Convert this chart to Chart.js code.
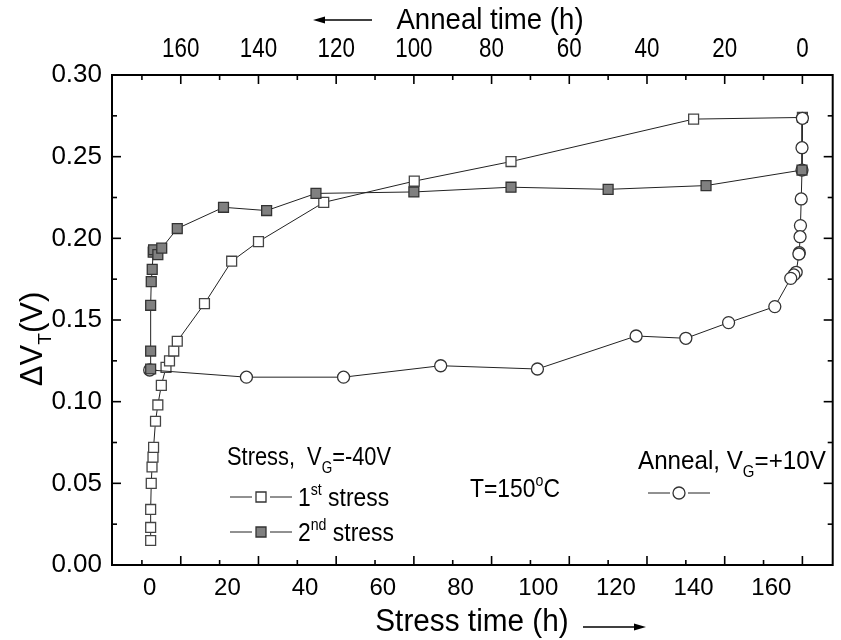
<!DOCTYPE html>
<html>
<head>
<meta charset="utf-8">
<script src="https://cdn.jsdelivr.net/npm/chart.js@4.4.1/dist/chart.umd.min.js"></script>
<style>
  html, body { margin: 0; padding: 0; background: #fff; }
  #wrap { width: 841px; height: 640px; position: relative; }
</style>
</head>
<body>
<div id="wrap"><canvas id="chart"></canvas></div>
<script>
// values (hours, volts)
const stress1Time = [0.25, 0.25, 0.25, 0.4, 0.6, 0.85, 1.0, 1.5, 2.1, 3.0, 4.2, 5.1, 6.2, 7.1, 14.1, 21.1, 28.0, 44.8, 68.1, 93.0, 140.0, 168.0];
const stress1Vt   = [0.015, 0.023, 0.034, 0.050, 0.060, 0.066, 0.072, 0.088, 0.098, 0.110, 0.121, 0.125, 0.131, 0.137, 0.160, 0.186, 0.198, 0.222, 0.235, 0.247, 0.273, 0.274];

const stress2Time = [0.25, 0.25, 0.25, 0.4, 0.65, 0.9, 1.0, 2.1, 3.1, 7.1, 19.0, 30.1, 42.8, 68.0, 93.0, 118.0, 143.2, 167.9];
const stress2Vt   = [0.120, 0.131, 0.159, 0.1735, 0.181, 0.1915, 0.193, 0.190, 0.194, 0.206, 0.219, 0.217, 0.2275, 0.2284, 0.2313, 0.230, 0.2323, 0.2418];

const annealTime = [0, 0.1, 0.1, 0.3, 0.5, 0.6, 0.8, 0.9, 1.6, 2.2, 3.0, 7.1, 19.0, 30.0, 42.8, 68.2, 93.1, 118.1, 143.1, 168];
const annealVt   = [0.2735, 0.2555, 0.2418, 0.2241, 0.2078, 0.201, 0.1912, 0.1904, 0.1792, 0.1776, 0.1755, 0.1582, 0.1484, 0.1388, 0.1402, 0.120, 0.122, 0.115, 0.115, 0.1194];

// axis ranges; anneal axis runs backwards, 0 h anneal sits at 168 h stress
const stressRange = [-9.7, 175.8];
const annealZero = 168;
const vtRange = [0, 0.30];

const FONT = '"Liberation Sans", Arial, sans-serif';

function pts(xs, ys) {
    return xs.map((x, i) => ({ x: x, y: ys[i] }));
}

// text with sub/superscripts, squeezed horizontally a bit like the original
function richText(ctx, x, y, parts, size, sx, align) {
    ctx.save();
    ctx.translate(x, y);
    ctx.scale(sx, 1);
    let w = 0;
    parts.forEach(p => {
        const s = p.sub || p.sup ? size * 0.62 : size;
        ctx.font = s + 'px ' + FONT;
        w += ctx.measureText(p.t).width;
    });
    let cx = align === 'center' ? -w / 2 : 0;
    ctx.textBaseline = 'alphabetic';
    ctx.textAlign = 'left';
    parts.forEach(p => {
        const s = p.sub || p.sup ? size * 0.62 : size;
        ctx.font = s + 'px ' + FONT;
        let dy = 0;
        if (p.sub) dy = size * 0.3;
        if (p.sup) dy = -size * 0.42;
        ctx.fillText(p.t, cx, dy);
        cx += ctx.measureText(p.t).width;
    });
    ctx.restore();
}

function seg(ctx, x1, y1, x2, y2) {
    ctx.beginPath();
    ctx.moveTo(x1, y1);
    ctx.lineTo(x2, y2);
    ctx.stroke();
}

function arrow(ctx, x1, x2, y) {
    // head at x2
    const dir = x2 > x1 ? 1 : -1;
    ctx.lineWidth = 1.5;
    seg(ctx, x1, y, x2 - dir * 8, y);
    ctx.beginPath();
    ctx.moveTo(x2, y);
    ctx.lineTo(x2 - dir * 12, y - 3.5);
    ctx.lineTo(x2 - dir * 12, y + 3.5);
    ctx.closePath();
    ctx.fill();
}

function legendMark(ctx, x, y, style, fill) {
    ctx.save();
    ctx.lineWidth = 1;
    ctx.strokeStyle = '#222';
    seg(ctx, x - 31, y, x - 9, y);
    seg(ctx, x + 9, y, x + 31, y);
    ctx.fillStyle = fill;
    ctx.strokeStyle = '#333';
    ctx.lineWidth = 1.3;
    ctx.beginPath();
    if (style === 'rect') ctx.rect(x - 5, y - 5, 10, 10);
    else ctx.arc(x, y, 6, 0, Math.PI * 2);
    ctx.fill();
    ctx.stroke();
    ctx.restore();
}

const frame = {
    id: 'frame',
    beforeDatasetsDraw(chart) {
        const { ctx, chartArea: a, scales } = chart;
        ctx.save();
        ctx.strokeStyle = '#000';
        ctx.lineWidth = 2;
        ctx.strokeRect(a.left, a.top, a.right - a.left, a.bottom - a.top);
        ctx.lineWidth = 1.6;
        scales.y.ticks.forEach(t => {
            const y = scales.y.getPixelForValue(t.value);
            const len = Math.round(t.value * 1000) % 50 === 0 ? 9 : 5;
            seg(ctx, a.left, y, a.left + len, y);
            seg(ctx, a.right, y, a.right - len, y);
        });
        // both horizontal edges carry the anneal axis tick marks
        scales.x2.ticks.forEach(t => {
            const x = scales.x2.getPixelForValue(t.value);
            const len = t.value % 20 === 0 ? 9 : 5;
            seg(ctx, x, a.top, x, a.top + len);
            seg(ctx, x, a.bottom, x, a.bottom - len);
        });
        ctx.restore();
    },
    afterDraw(chart) {
        const { ctx, scales } = chart;
        ctx.save();
        ctx.fillStyle = '#000';
        ctx.strokeStyle = '#000';

        // top tick labels, narrow like the original
        scales.x2.ticks.forEach(t => {
            if (t.value % 20 !== 0) return;
            const x = scales.x2.getPixelForValue(t.value);
            richText(ctx, x, 57, [{ t: String(t.value) }], 28, 0.8, 'center');
        });

        // axis titles
        richText(ctx, 490, 29, [{ t: 'Anneal time (h)' }], 30, 0.92, 'center');
        arrow(ctx, 372, 313, 20);
        richText(ctx, 472, 631, [{ t: 'Stress time (h)' }], 31, 0.96, 'center');
        arrow(ctx, 583, 646, 627);

        ctx.save();
        ctx.translate(42, 339);
        ctx.rotate(-Math.PI / 2);
        richText(ctx, 0, 0, [{ t: '\u0394V' }, { t: 'T', sub: true }, { t: '(V)' }], 31, 1, 'center');
        ctx.restore();

        // legend and notes
        richText(ctx, 227, 465, [{ t: 'Stress,  V' }, { t: 'G', sub: true }, { t: '=-40V' }], 26, 0.84);
        legendMark(ctx, 261, 497, 'rect', '#fff');
        richText(ctx, 298, 506, [{ t: '1' }, { t: 'st', sup: true }, { t: ' stress' }], 26, 0.88);
        legendMark(ctx, 261, 532, 'rect', '#808080');
        richText(ctx, 298, 541, [{ t: '2' }, { t: 'nd', sup: true }, { t: ' stress' }], 26, 0.88);

        richText(ctx, 470, 497, [{ t: 'T=150' }, { t: 'o', sup: true }, { t: 'C' }], 26, 0.88);

        richText(ctx, 638, 469, [{ t: 'Anneal, V' }, { t: 'G', sub: true }, { t: '=+10V' }], 26, 0.93);
        legendMark(ctx, 679, 493, 'circle', '#fff');
        ctx.restore();
    }
};

const tickFont = size => ({ family: FONT, size: size });

new Chart(document.getElementById('chart'), {
    type: 'line',
    data: {
        datasets: [
            {
                label: '2nd stress',
                data: pts(stress2Time, stress2Vt),
                xAxisID: 'x', yAxisID: 'y',
                borderColor: '#222', borderWidth: 1,
                pointStyle: 'rect', pointRadius: 7,
                pointBackgroundColor: '#808080', pointBorderColor: '#333', pointBorderWidth: 1.3
            },
            {
                label: 'Anneal',
                data: pts(annealTime, annealVt),
                xAxisID: 'x2', yAxisID: 'y',
                borderColor: '#222', borderWidth: 1,
                pointStyle: 'circle', pointRadius: 6,
                pointBackgroundColor: '#fff', pointBorderColor: '#333', pointBorderWidth: 1.3
            },
            {
                label: '1st stress',
                data: pts(stress1Time, stress1Vt),
                xAxisID: 'x', yAxisID: 'y',
                borderColor: '#222', borderWidth: 1,
                pointStyle: 'rect', pointRadius: 7,
                pointBackgroundColor: '#fff', pointBorderColor: '#444', pointBorderWidth: 1.3
            }
        ]
    },
    options: {
        responsive: true,
        maintainAspectRatio: false,
        animation: false,
        layout: { padding: { left: 0, right: 1, top: 0, bottom: 0 } },
        plugins: { legend: { display: false }, tooltip: { enabled: false } },
        scales: {
            x: {
                type: 'linear', position: 'bottom',
                min: stressRange[0], max: stressRange[1],
                afterFit: s => { s.height = 75; },
                grid: { display: false, drawTicks: false },
                border: { display: false },
                ticks: {
                    stepSize: 20, includeBounds: false, autoSkip: false, maxRotation: 0,
                    padding: 9, color: '#000', font: tickFont(24),
                    callback: v => String(v)
                }
            },
            x2: {
                type: 'linear', position: 'top', reverse: true,
                min: annealZero - stressRange[1], max: annealZero - stressRange[0],
                afterFit: s => { s.height = 75; },
                grid: { display: false, drawTicks: false },
                border: { display: false },
                ticks: {
                    stepSize: 10, includeBounds: false, autoSkip: false, maxRotation: 0,
                    display: false
                }
            },
            y: {
                type: 'linear', position: 'left',
                min: vtRange[0], max: vtRange[1],
                afterFit: s => { s.width = 112; },
                grid: { display: false, drawTicks: false },
                border: { display: false },
                ticks: {
                    stepSize: 0.025, includeBounds: false, autoSkip: false,
                    padding: 10, color: '#000', font: tickFont(26),
                    callback: v => (Math.round(v * 1000) % 50 === 0 ? v.toFixed(2) : '')
                }
            }
        }
    },
    plugins: [frame]
});
</script>
</body>
</html>
